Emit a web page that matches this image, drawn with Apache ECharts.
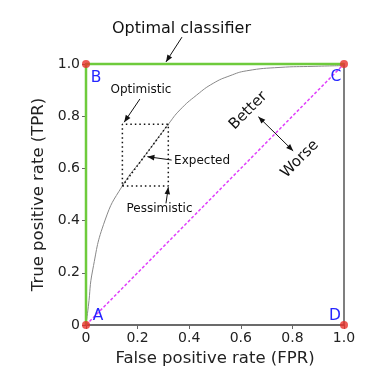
<!DOCTYPE html>
<html>
<head>
<meta charset="utf-8">
<script src="https://cdn.jsdelivr.net/npm/echarts@6/dist/echarts.min.js"></script>
<style>
  html, body { margin: 0; padding: 0; background: #fff; }
  #chart { width: 386px; height: 375px; }
</style>
</head>
<body>
<div id="chart"></div>
<script>
// ROC 曲线采样点 [FPR, TPR]
const rocCurve = [
  [0, 0], [0.009, 0.07], [0.026, 0.211], [0.074, 0.402], [0.141, 0.533],
  [0.23, 0.651], [0.319, 0.769], [0.364, 0.824], [0.429, 0.881], [0.493, 0.926],
  [0.558, 0.955], [0.623, 0.974], [0.752, 0.987], [0.88, 0.991], [1.0, 0.994]
]
const optimalPath = [[0, 0], [0, 1], [1, 1]]
const randomLine = [[0, 0], [1, 1]]
const cornerPoints = [[0, 0], [0, 1], [1, 1], [1, 0]]
const cornerNames = ['A', 'B', 'C', 'D']
const cornerLabelPos = [[0.047, 0.036], [0.039, 0.948], [0.969, 0.95], [0.965, 0.036]]
const boxLow = [0.141, 0.533]
const boxHigh = [0.319, 0.769]
const tickLabels = ['0', '0.2', '0.4', '0.6', '0.8', '1.0']

// 注释文字: 文本, 位置(数据坐标), 字号, 旋转角
const noteTexts = ['Optimal classifier', 'Optimistic', 'Expected', 'Pessimistic', 'Better', 'Worse']
const notePos = [[0.37, 1.134], [0.213, 0.9], [0.45, 0.63], [0.285, 0.444], [0.629, 0.821], [0.829, 0.636]]
const noteSize = [16, 12, 12, 12, 15, 15]
const noteAngle = [0, 0, 0, 0, 45, 45]

// 箭头: 起点, 终点, 是否双向
const arrowFrom = [[0.372, 1.103], [0.209, 0.866], [0.332, 0.632], [0.31, 0.466], [0.668, 0.798]]
const arrowTo = [[0.31, 1.008], [0.148, 0.777], [0.238, 0.645], [0.319, 0.528], [0.803, 0.667]]
const arrowBoth = [false, false, false, false, true]

const boxEdges = [
  [boxLow[0], boxLow[1]], [boxHigh[0], boxLow[1]], [boxHigh[0], boxHigh[1]],
  [boxLow[0], boxHigh[1]], [boxLow[0], boxLow[1]]
]
const boxDiag = [[boxLow[0], boxLow[1]], [boxHigh[0], boxHigh[1]]]

const FONT = 'DejaVu Sans'
const chart = echarts.init(document.getElementById('chart'))

const axisCommon = {
  type: 'value',
  min: 0,
  max: 1,
  interval: 0.2,
  splitLine: { show: false },
  axisLine: { show: true, lineStyle: { color: '#666', width: 1.5 } },
  axisTick: { show: true, length: 4, lineStyle: { color: '#666' } },
  axisLabel: {
    color: '#222',
    fontSize: 14,
    fontFamily: FONT,
    margin: 6,
    formatter: (v) => tickLabels[Math.round(v * 5)]
  },
  nameLocation: 'middle',
  nameTextStyle: { color: '#222', fontSize: 16.5, fontFamily: FONT }
}

chart.setOption({
  animation: false,
  grid: {
    left: 86, right: 42, top: 64, bottom: 50,
    show: true, borderColor: '#555', borderWidth: 1.5
  },
  xAxis: Object.assign({}, axisCommon, {
    name: 'False positive rate (FPR)',
    nameGap: 24
  }),
  yAxis: Object.assign({}, axisCommon, {
    name: 'True positive rate (TPR)',
    nameGap: 28
  }),
  series: [
    {
      type: 'line', data: rocCurve, smooth: 0.5,
      symbol: 'none', lineStyle: { color: '#888', width: 1 }, clip: false, z: 2
    },
    {
      type: 'line', data: optimalPath, symbol: 'none',
      lineStyle: { color: '#6ecb3c', width: 2.5 }, clip: false, z: 3
    },
    {
      type: 'line', data: randomLine, symbol: 'none',
      lineStyle: { color: '#e040fb', width: 1.5, type: [3, 2] }, z: 2
    },
    {
      type: 'line', data: boxEdges, symbol: 'none',
      lineStyle: { color: '#111', width: 1.5, type: [1.5, 3] }, z: 4
    },
    {
      type: 'line', data: boxDiag, symbol: 'none',
      lineStyle: { color: '#111', width: 1.5, type: [1.5, 2.5] }, z: 4
    },
    {
      type: 'scatter', data: cornerPoints, symbolSize: 8,
      itemStyle: { color: '#e8312a' }, clip: false, z: 5
    }
  ]
})

// 注释图形: 从数据坐标换算成像素
const px = (p) => chart.convertToPixel({ gridIndex: 0 }, p)

function arrowHead(tip, from) {
  const dx = tip[0] - from[0]
  const dy = tip[1] - from[1]
  const len = Math.sqrt(dx * dx + dy * dy)
  const ux = dx / len, uy = dy / len
  const L = 7, W = 2.8
  return {
    type: 'polygon',
    shape: {
      points: [
        tip,
        [tip[0] - L * ux - W * uy, tip[1] - L * uy + W * ux],
        [tip[0] - L * ux + W * uy, tip[1] - L * uy - W * ux]
      ]
    },
    style: { fill: '#111' },
    z: 10
  }
}

const graphics = []
noteTexts.forEach((t, i) => {
  const p = px(notePos[i])
  graphics.push({
    type: 'text', x: p[0], y: p[1], rotation: noteAngle[i] * Math.PI / 180, z: 10,
    style: {
      text: t, fontSize: noteSize[i], fontFamily: FONT, fill: '#111',
      align: 'center', verticalAlign: 'middle'
    }
  })
})
cornerNames.forEach((t, i) => {
  const p = px(cornerLabelPos[i])
  graphics.push({
    type: 'text', x: p[0], y: p[1], z: 10,
    style: {
      text: t, fontSize: 15.5, fontFamily: FONT, fill: '#2626ff',
      align: 'center', verticalAlign: 'middle'
    }
  })
})
arrowFrom.forEach((f, i) => {
  const a = px(f)
  const b = px(arrowTo[i])
  graphics.push({
    type: 'line', z: 10,
    shape: { x1: a[0], y1: a[1], x2: b[0], y2: b[1] },
    style: { stroke: '#111', lineWidth: 1 }
  })
  graphics.push(arrowHead(b, a))
  if (arrowBoth[i]) graphics.push(arrowHead(a, b))
})

chart.setOption({ graphic: graphics })
</script>
</body>
</html>
